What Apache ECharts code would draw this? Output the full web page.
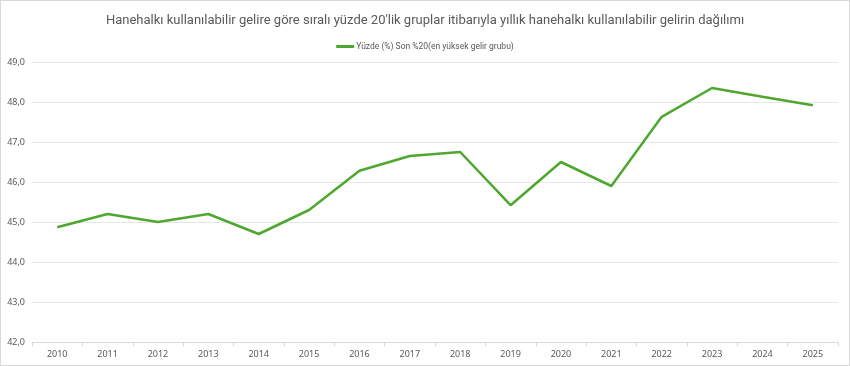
<!DOCTYPE html>
<html><head><meta charset="utf-8">
<script src="https://cdn.jsdelivr.net/npm/echarts@6/dist/echarts.min.js"></script>
<style>
html,body{margin:0;padding:0;background:#fff;}
#c{width:848px;height:364px;border:1px solid #d9d9d9;}
</style></head>
<body><div id="c"></div>
<script>
const years = ['2010','2011','2012','2013','2014','2015','2016','2017','2018','2019','2020','2021','2022','2023','2024','2025'];
const top20 = [44.87,45.2,45.0,45.2,44.7,45.3,46.28,46.65,46.75,45.42,46.5,45.9,47.63,48.35,48.13,47.92];
const seriesName = 'Yüzde (%) Son %20(en yüksek gelir grubu)';
const titleText = 'Hanehalkı kullanılabilir gelire göre sıralı yüzde 20\'lik gruplar itibarıyla yıllık hanehalkı kullanılabilir gelirin dağılımı';

const chart = echarts.init(document.getElementById('c'));
chart.setOption({
  animation:false,
  title:{text:titleText,left:'center',top:8,textStyle:{fontFamily:'Roboto, sans-serif',fontSize:13,fontWeight:'normal',color:'#595959'}},
  legend:{top:36,left:'center',itemWidth:18,itemHeight:3,icon:'rect',itemGap:5,
    textStyle:{fontFamily:'Roboto, sans-serif',fontSize:8.5,color:'#595959',padding:[0,0,0,-3]},
    data:[seriesName]},
  grid:{left:31,right:11,top:61,bottom:23,containLabel:false},
  xAxis:{type:'category',data:years,boundaryGap:true,
    axisLine:{lineStyle:{color:'#d9d9d9'}},
    axisTick:{show:true,lineStyle:{color:'#d9d9d9'},length:4},
    axisLabel:{color:'#595959',fontSize:9,fontFamily:'Noto Sans, sans-serif',margin:8}},
  yAxis:{type:'value',min:42,max:49,interval:1,
    axisLine:{show:false},axisTick:{show:false},
    splitLine:{lineStyle:{color:'#e6e6e6'}},
    axisLabel:{color:'#595959',fontSize:9,fontFamily:'Noto Sans, sans-serif',margin:7,
      formatter:v=>v.toFixed(1).replace('.',',')}},
  series:[{name:seriesName,type:'line',data:top20,symbol:'none',
    lineStyle:{color:'#4ea72e',width:2.5},itemStyle:{color:'#4ea72e'}}]
});
</script></body></html>
